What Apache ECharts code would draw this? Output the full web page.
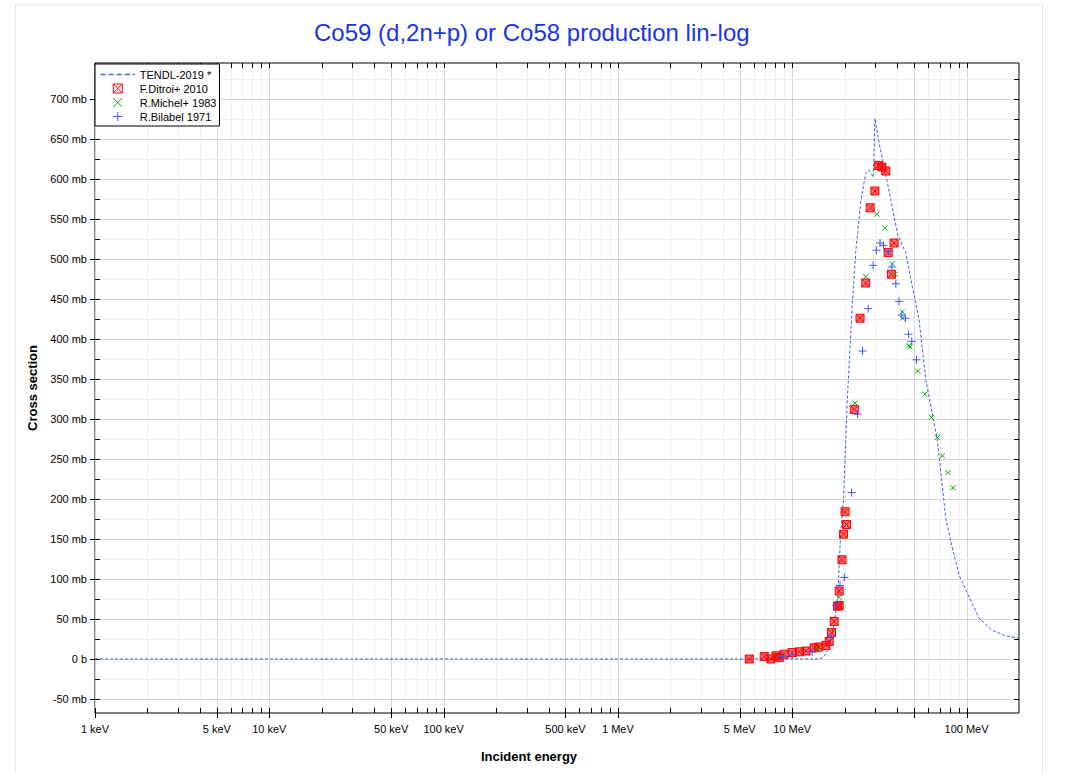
<!DOCTYPE html>
<html><head><meta charset="utf-8">
<script src="https://cdn.jsdelivr.net/npm/echarts@6/dist/echarts.min.js"></script>
<style>
html,body{margin:0;padding:0;background:#fff;}
#frame{position:absolute;left:15px;top:4px;width:1028px;height:800px;border:1px solid #e6e6e6;box-sizing:border-box;}
#chart{position:absolute;left:0;top:0;width:1067px;height:773px;}
</style></head>
<body><div id="frame"></div><div id="chart"></div>
<script>
// ---- data (energy in MeV, cross section in mb) ----
const tendlEnergy = [0.001, 0.01, 0.1, 1, 10, 14.3, 15.25, 15.9, 17.0, 18.2, 19.0, 19.7, 20.7, 21.9, 22.2, 23.2, 24.8, 26.4, 27.6, 29.2, 29.8, 31.5, 33.7, 36.8, 40.1, 44.9, 48.9, 50.7, 53.4, 58.4, 68.0, 76.0, 82.6, 90.6, 99.3, 118, 140, 168, 200];
const tendlSigma  = [0, 0, 0, 0, 0, 0, 3, 11, 32, 74, 160, 200, 324, 426, 449, 511, 574, 607, 611, 602, 676, 645, 615, 574, 532, 507, 465, 449, 424, 349, 274, 176, 140, 105, 86, 51, 36, 29, 26];

const ditroiEnergy = [5.67, 6.91, 7.55, 8.07, 8.42, 9.0, 10.0, 11.0, 12.0, 13.4, 14.2, 15.6, 16.3, 16.8, 17.4, 18.2, 18.6, 18.6, 19.3, 19.7, 20.5, 20.1, 22.7, 24.5, 26.4, 28.0, 29.8, 31.2, 32.7, 34.4, 35.5, 37.1, 38.4];
const ditroiSigma  = [0, 3, 0, 4, 2, 6, 8, 9, 10, 14, 15, 17, 22, 33, 47, 66, 67, 85, 124, 156, 168, 184, 312, 426, 470, 564, 585, 617, 615, 610, 508, 481, 520];

const michelEnergy = [14.0, 18.6, 22.9, 26.4, 30.6, 34.1, 37.6, 38.9, 42.9, 42.9, 46.8, 47.3, 52.5, 57.6, 62.9, 68.0, 72.7, 78.3, 83.7];
const michelSigma  = [11, 77, 320, 478, 556, 539, 494, 481, 434, 426, 392, 390, 360, 331, 302, 277, 254, 233, 214];

const bilabelEnergy = [8.8, 10.0, 13.0, 16.7, 17.8, 18.8, 19.9, 21.9, 23.7, 25.3, 27.3, 29.1, 30.4, 31.9, 33.4, 35.6, 37.3, 39.3, 41.0, 42.6, 44.6, 46.5, 48.5, 51.6];
const bilabelSigma  = [3, 5, 9, 28, 67, 92, 102, 208, 306, 385, 438, 492, 511, 520, 517, 509, 490, 469, 447, 430, 426, 406, 397, 374];

// ---- axis ticks ----
const xMajorTicks = [0.001, 0.005, 0.01, 0.05, 0.1, 0.5, 1, 5, 10, 50, 100];
const xMinorTicks = [0.002, 0.003, 0.004, 0.006, 0.007, 0.008, 0.009,
  0.02, 0.03, 0.04, 0.06, 0.07, 0.08, 0.09,
  0.2, 0.3, 0.4, 0.6, 0.7, 0.8, 0.9,
  2, 3, 4, 6, 7, 8, 9,
  20, 30, 40, 60, 70, 80, 90];
const xLabelValues = [0.001, 0.005, 0.01, 0.05, 0.1, 0.5, 1, 5, 10, 100];
const xLabelTexts = ['1 keV', '5 keV', '10 keV', '50 keV', '100 keV', '500 keV', '1 MeV', '5 MeV', '10 MeV', '100 MeV'];
const yMajorTicks = [-50, 0, 50, 100, 150, 200, 250, 300, 350, 400, 450, 500, 550, 600, 650, 700];
const yMinorTicks = [-25, 25, 75, 125, 175, 225, 275, 325, 375, 425, 475, 525, 575, 625, 675, 725];

const FONT = '"Liberation Sans", Arial, Helvetica, sans-serif';
const zip = (a, b) => a.map((v, i) => [v, b[i]]);

function vLines(major) {
  return function (params, api) {
    const cs = params.coordSys;
    const x = Math.round(api.coord([api.value(0), 0])[0]) + 0.5;
    const top = cs.y, bot = cs.y + cs.height;
    return { type: 'group', children: [
      { type: 'line', shape: { x1: x, y1: top, x2: x, y2: bot }, style: { stroke: major ? '#d6d6d6' : '#eeeeee', lineWidth: 1 } },
      { type: 'line', shape: { x1: x, y1: bot - 5, x2: x, y2: major ? bot + 5 : bot }, style: { stroke: '#000', lineWidth: 1 } },
      { type: 'line', shape: { x1: x, y1: top, x2: x, y2: top + 5 }, style: { stroke: '#000', lineWidth: 1 } }
    ] };
  };
}
function hLines(major) {
  return function (params, api) {
    const cs = params.coordSys;
    const y = Math.round(api.coord([1, api.value(1)])[1]) + 0.5;
    const l = cs.x, r = cs.x + cs.width;
    return { type: 'group', children: [
      { type: 'line', shape: { x1: l, y1: y, x2: r, y2: y }, style: { stroke: major ? '#d6d6d6' : '#eeeeee', lineWidth: 1 } },
      { type: 'line', shape: { x1: major ? l - 5 : l, y1: y, x2: l + 5, y2: y }, style: { stroke: '#000', lineWidth: 1 } },
      { type: 'line', shape: { x1: r - 5, y1: y, x2: r, y2: y }, style: { stroke: '#000', lineWidth: 1 } }
    ] };
  };
}
function xLabelRender(params, api) {
  const cs = params.coordSys;
  const x = api.coord([api.value(0), 0])[0];
  return { type: 'text', x: x, y: cs.y + cs.height + 10,
    style: { text: xLabelTexts[params.dataIndex], fill: '#000', font: '11px ' + FONT, align: 'center', verticalAlign: 'top' } };
}

const SYM_BOXX = 'path://M0,0L10,0L10,10L0,10Z M0,0L10,10 M10,0L0,10';
const SYM_X = 'path://M0,0L10,10 M10,0L0,10';
const SYM_PLUS = 'path://M5,0L5,10 M0,5L10,5';

const chart = echarts.init(document.getElementById('chart'), null, { renderer: 'svg' });
const deco = { type: 'custom', coordinateSystem: 'cartesian2d', silent: true, clip: false, z: 1, encode: { x: 0, y: 1 } };
chart.setOption({
  animation: false,
  backgroundColor: 'transparent',
  title: {
    text: 'Co59 (d,2n+p) or Co58 production lin-log',
    left: 309, top: 15,
    textStyle: { color: '#1a35e6', fontSize: 24, fontWeight: 'normal', fontFamily: FONT }
  },
  grid: { left: 95, right: 48, top: 63, bottom: 60, show: true, borderColor: '#000', borderWidth: 1, backgroundColor: '#fff' },
  legend: {
    left: 95, top: 64, orient: 'vertical',
    padding: [5, 3, 4, 5], itemGap: 3, itemWidth: 34, itemHeight: 9,
    backgroundColor: '#fff', borderColor: '#000', borderWidth: 1, borderRadius: 0,
    textStyle: { fontSize: 11, color: '#000', fontFamily: FONT },
    data: [
      { name: 'TENDL-2019 *', itemStyle: { opacity: 0, color: 'rgba(0,0,0,0)', borderWidth: 0 }, lineStyle: { color: '#3a62e0', width: 1.5, type: [5, 3], opacity: 1 } },
      { name: 'F.Ditroi+ 2010', icon: SYM_BOXX, itemStyle: { color: 'rgba(0,0,0,0)', borderColor: '#ff0000', borderWidth: 1 } },
      { name: 'R.Michel+ 1983', icon: SYM_X, itemStyle: { color: 'rgba(0,0,0,0)', borderColor: '#00aa00', borderWidth: 1 } },
      { name: 'R.Bilabel 1971', icon: SYM_PLUS, itemStyle: { color: 'rgba(0,0,0,0)', borderColor: '#4455ff', borderWidth: 1 } }
    ]
  },
  xAxis: {
    type: 'log', logBase: 10, min: 0.001, max: 200,
    name: 'Incident energy', nameLocation: 'middle', nameGap: 37,
    nameTextStyle: { fontSize: 13, fontWeight: 'bold', color: '#000', fontFamily: FONT, padding: [0, 56, 0, 0] },
    axisLine: { show: false }, axisTick: { show: false }, axisLabel: { show: false }, splitLine: { show: false }
  },
  yAxis: {
    type: 'value', min: -67.5, max: 745, splitNumber: 16,
    name: 'Cross section', nameLocation: 'middle', nameGap: 55,
    nameTextStyle: { fontSize: 13, fontWeight: 'bold', color: '#000', fontFamily: FONT },
    axisLine: { show: false }, axisTick: { show: false }, splitLine: { show: false },
    axisLabel: {
      margin: 8, fontSize: 11, color: '#000', fontFamily: FONT,
      formatter: function (v) {
        if (Math.abs(v % 50) > 1e-6) return '';
        return v === 0 ? '0 b' : v + ' mb';
      }
    }
  },
  series: [
    Object.assign({ name: 'xminor', renderItem: vLines(false), data: xMinorTicks.map(v => [v, 0]) }, deco),
    Object.assign({ name: 'xmajor', renderItem: vLines(true), data: xMajorTicks.map(v => [v, 0]) }, deco),
    Object.assign({ name: 'yminor', renderItem: hLines(false), data: yMinorTicks.map(v => [1, v]) }, deco),
    Object.assign({ name: 'ymajor', renderItem: hLines(true), data: yMajorTicks.map(v => [1, v]) }, deco),
    Object.assign({ name: 'xlabels', renderItem: xLabelRender, data: xLabelValues.map(v => [v, 0]) }, deco),
    {
      name: 'TENDL-2019 *', type: 'line', data: zip(tendlEnergy, tendlSigma), symbol: 'none', z: 3,
      lineStyle: { color: '#3a62e0', width: 1, type: [3, 2] }, itemStyle: { color: '#3a62e0' }
    },
    {
      name: 'F.Ditroi+ 2010', type: 'scatter', data: zip(ditroiEnergy, ditroiSigma), symbol: SYM_BOXX, symbolSize: 8, z: 4,
      itemStyle: { color: 'rgba(255,0,0,0.55)', borderColor: '#ff0000', borderWidth: 1, opacity: 1 }
    },
    {
      name: 'R.Michel+ 1983', type: 'scatter', data: zip(michelEnergy, michelSigma), symbol: SYM_X, symbolSize: 5, z: 5,
      itemStyle: { color: 'rgba(0,0,0,0)', borderColor: '#00aa00', borderWidth: 1, opacity: 1 }
    },
    {
      name: 'R.Bilabel 1971', type: 'scatter', data: zip(bilabelEnergy, bilabelSigma), symbol: SYM_PLUS, symbolSize: 8, z: 6,
      itemStyle: { color: 'rgba(0,0,0,0)', borderColor: '#4455ff', borderWidth: 1, opacity: 1 }
    }
  ]
});
</script>
</body></html>
